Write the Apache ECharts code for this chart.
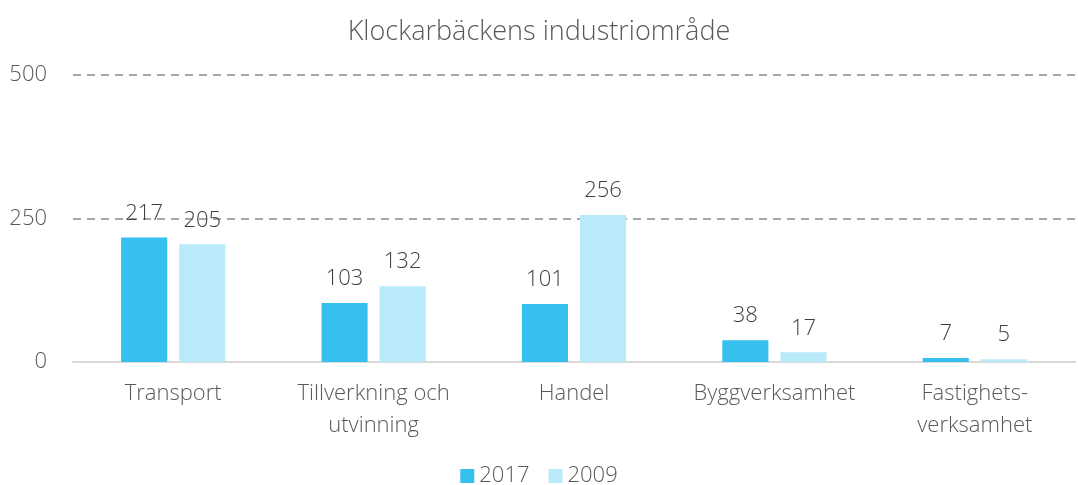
<!DOCTYPE html>
<html>
<head>
<meta charset="utf-8">
<script src="https://cdn.jsdelivr.net/npm/echarts@6/dist/echarts.min.js"></script>
<style>
  html, body { margin: 0; padding: 0; background: #fff; }
  #chart { width: 1078px; height: 485px; }
</style>
</head>
<body>
<div id="chart"></div>
<script>
// Sectors shown on the category axis
const categories = ['Transport', 'Tillverkning och\nutvinning', 'Handel', 'Byggverksamhet', 'Fastighets-\nverksamhet'];
// Number of employees per sector
const values2017 = [217, 103, 101, 38, 7];
const values2009 = [205, 132, 256, 17, 5];
const seriesNames = ['2017', '2009'];
const yTicks = [0, 250, 500];

const font = 'Open Sans, Noto Sans, sans-serif';
const chart = echarts.init(document.getElementById('chart'));

const labelStyle = {
  show: true,
  position: 'top',
  distance: 13,
  color: '#404040',
  fontSize: 22,
  fontFamily: font,
  fontWeight: 300
};

chart.setOption({
  animation: false,
  title: {
    text: 'Klockarbäckens industriområde',
    left: 'center',
    top: 14,
    textStyle: { color: '#595959', fontSize: 27, fontWeight: 300, fontFamily: font }
  },
  legend: {
    data: seriesNames,
    top: 463,
    left: 'center',
    padding: 0,
    itemWidth: 14,
    itemHeight: 14,
    itemGap: 19,
    icon: 'rect',
    textStyle: { color: '#595959', fontSize: 22, fontFamily: font, fontWeight: 300, lineHeight: 26 }
  },
  grid: { left: 73, right: 3, top: 75, bottom: 123, containLabel: false },
  xAxis: {
    type: 'category',
    data: categories,
    axisTick: { show: false },
    axisLine: { lineStyle: { color: '#d9d9d9', width: 2 } },
    axisLabel: {
      color: '#595959', fontSize: 22, fontFamily: font, fontWeight: 300,
      margin: 16, lineHeight: 32, interval: 0
    }
  },
  yAxis: {
    type: 'value',
    min: yTicks[0],
    max: yTicks[yTicks.length - 1],
    interval: yTicks[1] - yTicks[0],
    axisLine: { show: false },
    axisTick: { show: false },
    axisLabel: { color: '#595959', fontSize: 22, fontFamily: font, fontWeight: 300, margin: 26 },
    splitLine: { lineStyle: { color: '#a6a6a6', type: [8, 6], width: 2 } }
  },
  series: [
    {
      name: seriesNames[0],
      type: 'bar',
      data: values2017,
      itemStyle: { color: '#36c0ee' },
      barGap: '26%',
      barCategoryGap: '48%',
      label: labelStyle
    },
    {
      name: seriesNames[1],
      type: 'bar',
      data: values2009,
      itemStyle: { color: '#b8eafa' },
      label: labelStyle
    }
  ]
});
</script>
</body>
</html>
